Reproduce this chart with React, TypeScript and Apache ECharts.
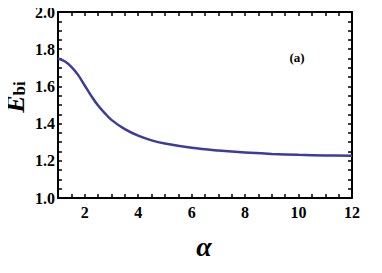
import React, { useEffect, useRef } from "react";
import * as echarts from "echarts";

const alphaValues = [1, 1.25, 1.5, 1.75, 2, 2.25, 2.5, 2.75, 3, 3.5, 4, 4.5, 5, 6, 7, 8, 9, 10, 11, 12];
const ebiValues = [1.75, 1.735, 1.705, 1.662, 1.605, 1.548, 1.497, 1.456, 1.42, 1.37, 1.335, 1.31, 1.293, 1.27, 1.255, 1.244, 1.237, 1.232, 1.229, 1.227];
const xLabelStep = 2;
const yLabelStep = 0.2;

const FONT = "Liberation Serif";

export default function App() {
  const ref = useRef<HTMLDivElement>(null);
  useEffect(() => {
    if (!ref.current) return;
    const chart = echarts.init(ref.current, undefined, { renderer: "svg" });
    const lineStyle = { color: "#000", width: 2 };
    const tickStyle = { color: "#000", width: 1.5 };
    const isStep = (v: number, s: number) => Math.abs(v / s - Math.round(v / s)) < 1e-6;
    const xAxisOf = (pos: "top" | "bottom", labels: boolean) => ({
      type: "value",
      position: pos,
      min: 1,
      max: 12,
      interval: 0.5,
      axisLine: { show: true, onZero: false, lineStyle },
      axisTick: { show: true, inside: true, length: 4, lineStyle: tickStyle },
      axisLabel: {
        show: labels,
        fontFamily: FONT,
        fontWeight: "bold",
        fontSize: 16,
        color: "#000",
        margin: 6,
        formatter: (v: number) => (isStep(v, xLabelStep) ? String(Math.round(v)) : ""),
      },
      splitLine: { show: false },
    });
    const yAxisOf = (pos: "left" | "right", labels: boolean) => ({
      type: "value",
      position: pos,
      min: 1,
      max: 2,
      interval: 0.05,
      axisLine: { show: true, onZero: false, lineStyle },
      axisTick: { show: true, inside: true, length: 4, lineStyle: tickStyle },
      axisLabel: {
        show: labels,
        fontFamily: FONT,
        fontWeight: "bold",
        fontSize: 16,
        color: "#000",
        margin: 3,
        formatter: (v: number) => (isStep(v, yLabelStep) ? v.toFixed(1) : ""),
      },
      splitLine: { show: false },
    });
    chart.setOption({
      animation: false,
      backgroundColor: "#fff",
      grid: { left: 58, top: 12, right: 30, bottom: 75, containLabel: false },
      xAxis: [xAxisOf("bottom", true), xAxisOf("top", false)],
      yAxis: [yAxisOf("left", true), yAxisOf("right", false)],
      series: [
        {
          type: "line",
          xAxisIndex: 0,
          yAxisIndex: 0,
          data: alphaValues.map((a, i) => [a, ebiValues[i]]),
          smooth: 0.4,
          showSymbol: false,
          lineStyle: { color: "#3c3c9c", width: 2.5 },
        },
      ],
      graphic: [
        {
          type: "text",
          x: 15,
          y: 97,
          rotation: Math.PI / 2,
          style: {
            text: "{e|E}{s|bi}",
            align: "center",
            verticalAlign: "middle",
            rich: {
              e: { fontFamily: FONT, fontStyle: "italic", fontWeight: "bold", fontSize: 26, fill: "#000" },
              s: { fontFamily: FONT, fontWeight: "bold", fontSize: 17, fill: "#000", verticalAlign: "bottom", padding: [9, 0, 0, 0] },
            },
          },
        },
        {
          type: "text",
          x: 204,
          y: 246,
          style: {
            text: "α",
            align: "center",
            verticalAlign: "middle",
            fontFamily: FONT,
            fontStyle: "italic",
            fontWeight: "bold",
            fontSize: 28,
            fill: "#000",
          },
        },
        {
          type: "text",
          x: 297,
          y: 57,
          style: {
            text: "(a)",
            align: "center",
            verticalAlign: "middle",
            fontFamily: FONT,
            fontWeight: "bold",
            fontSize: 13,
            fill: "#000",
          },
        },
      ],
    });
    return () => chart.dispose();
  }, []);
  return <div ref={ref} style={{ width: 382, height: 273, margin: -8 }} />;
}
